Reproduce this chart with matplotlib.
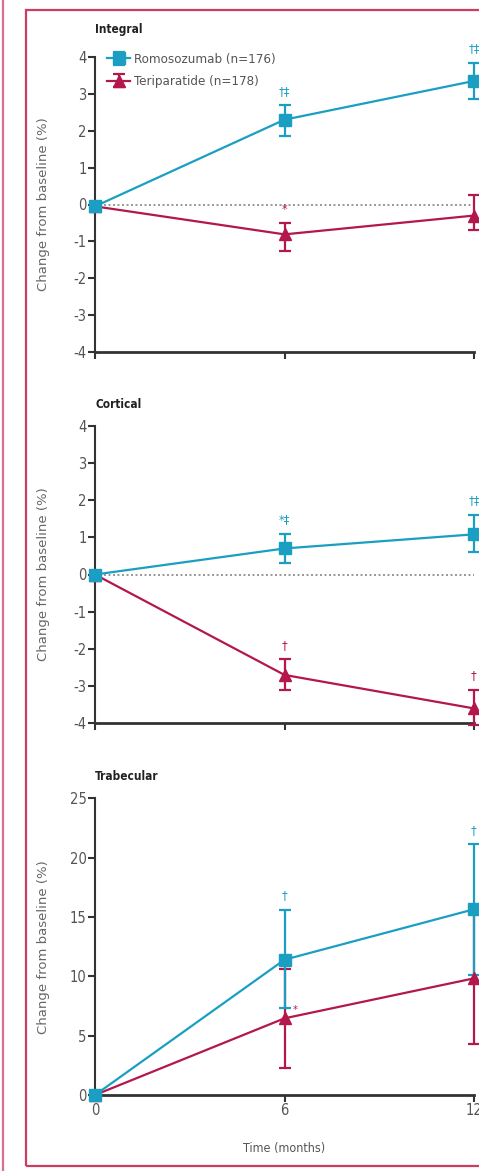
import matplotlib

matplotlib.use("Agg")
import matplotlib.pyplot as plt
from matplotlib.lines import Line2D
from matplotlib.patches import Rectangle

plt.rcParams["font.family"] = ["DejaVu Sans"]
plt.rcParams["font.stretch"] = "condensed"
plt.rcParams["axes.unicode_minus"] = False

# data
months = [0, 6, 12]
panels = ["Integral", "Cortical", "Trabecular"]

romo_mean = [[-0.05, 2.3, 3.35], [0.0, 0.7, 1.08], [0.0, 11.4, 15.65]]
romo_lo = [[-0.05, 1.87, 2.87], [0.0, 0.3, 0.6], [0.0, 7.3, 10.1]]
romo_hi = [[-0.05, 2.7, 3.85], [0.0, 1.1, 1.6], [0.0, 15.6, 21.15]]

teri_mean = [[-0.05, -0.81, -0.3], [0.0, -2.7, -3.6], [0.0, 6.46, 9.83]]
teri_lo = [[-0.05, -1.25, -0.7], [0.0, -3.1, -4.05], [0.0, 2.25, 4.3]]
teri_hi = [[-0.05, -0.5, 0.27], [0.0, -2.28, -3.1], [0.0, 10.6, 15.3]]

romo_marks = [["", "†‡", "†‡"], ["", "*‡", "†‡"], ["", "†", "†"]]
teri_marks = [["", "*", ""], ["", "†", "†"], ["", "*", "*"]]

ylims = [(-4, 4), (-4, 4), (0, 25)]
yticks = [range(-4, 5), range(-4, 5), range(0, 30, 5)]

romo_label = "Romosozumab (n=176)"
teri_label = "Teriparatide (n=178)"

cyan = "#1a9fc2"
crimson = "#b3174c"
axis_col = "#333333"
text_col = "#555555"

fig = plt.figure(figsize=(4.79, 11.71), dpi=100)

# pink frame
fig.add_artist(Line2D([2.5 / 479, 2.5 / 479], [0, 1], transform=fig.transFigure,
                      color="#d9708f", lw=1.6))
fig.add_artist(Rectangle((26 / 479, 1 - 1166 / 1171), 1.0, (1166 - 10) / 1171,
                         transform=fig.transFigure, fill=False,
                         edgecolor="#cc3d63", lw=1.6, clip_on=False))

boxes = [(57, 352), (425.7, 723.3), (798.3, 1095)]
title_y = [30, 405, 776]
x0, x1 = 95 / 479, 474 / 479

for i, (top, bot) in enumerate(boxes):
    ax = fig.add_axes([x0, 1 - bot / 1171, x1 - x0, (bot - top) / 1171])
    ax.set_xlim(0, 12)
    ax.set_ylim(*ylims[i])
    ax.set_yticks(list(yticks[i]))
    ax.set_xticks(months)
    for s in ["top", "right"]:
        ax.spines[s].set_visible(False)
    ax.spines["left"].set_color(axis_col)
    ax.spines["left"].set_linewidth(1.5)
    ax.spines["bottom"].set_color(axis_col)
    ax.spines["bottom"].set_linewidth(2.0)
    ax.tick_params(axis="both", direction="out", color=axis_col, width=1.5,
                   length=5, labelsize=10.5, labelcolor=text_col, pad=1)
    if i < 2:
        ax.set_xticklabels([])
        ax.axhline(0, color="#888888", lw=1.2, ls=(0, (1.2, 1.5)), zorder=1)
    else:
        ax.set_xticklabels([str(m) for m in months])
        ax.set_xlabel("Time (months)", fontsize=9, color=text_col, labelpad=17)
    ax.set_ylabel("Change from baseline (%)", fontsize=9.5, fontstretch="normal",
                  color="#666666")
    ax.yaxis.set_label_coords(-0.118, 0.5)
    fig.text(x0, 1 - title_y[i] / 1171, panels[i], fontsize=8.5,
             fontweight="bold", color="#222222", ha="left", va="center")

    for mean, lo, hi, col, mk, lab, marks in [
        (teri_mean[i], teri_lo[i], teri_hi[i], crimson, "^", teri_label, teri_marks[i]),
        (romo_mean[i], romo_lo[i], romo_hi[i], cyan, "s", romo_label, romo_marks[i]),
    ]:
        yerr = [[m - l for m, l in zip(mean, lo)], [h - m for m, h in zip(mean, hi)]]
        eb = ax.errorbar(months, mean, yerr=yerr, color=col, marker=mk,
                         markersize=9, lw=1.6, elinewidth=1.6, capsize=4,
                         capthick=1.6, label=lab, clip_on=False, zorder=3)
        for c in eb.get_children():
            c.set_clip_on(False)
        span = ylims[i][1] - ylims[i][0]
        for m, h, mean_v, t in zip(months, hi, mean, marks):
            if not t:
                continue
            if i == 2 and col == crimson:
                ax.text(m + 0.25, mean_v + 0.3, t, color=col, fontsize=8,
                        ha="left", va="bottom")
            else:
                ax.text(m, h + 0.025 * span, t, color=col, fontsize=9,
                        ha="center", va="bottom")

    if i == 0:
        h, l = ax.get_legend_handles_labels()
        ax.legend(h[::-1], l[::-1], loc="upper left", bbox_to_anchor=(0.01, 1.04),
                  frameon=False, fontsize=9.5, handlelength=1.8, handletextpad=0.3,
                  labelspacing=0.7, borderaxespad=0.2, labelcolor=text_col)

fig.savefig("out.png", dpi=100)
